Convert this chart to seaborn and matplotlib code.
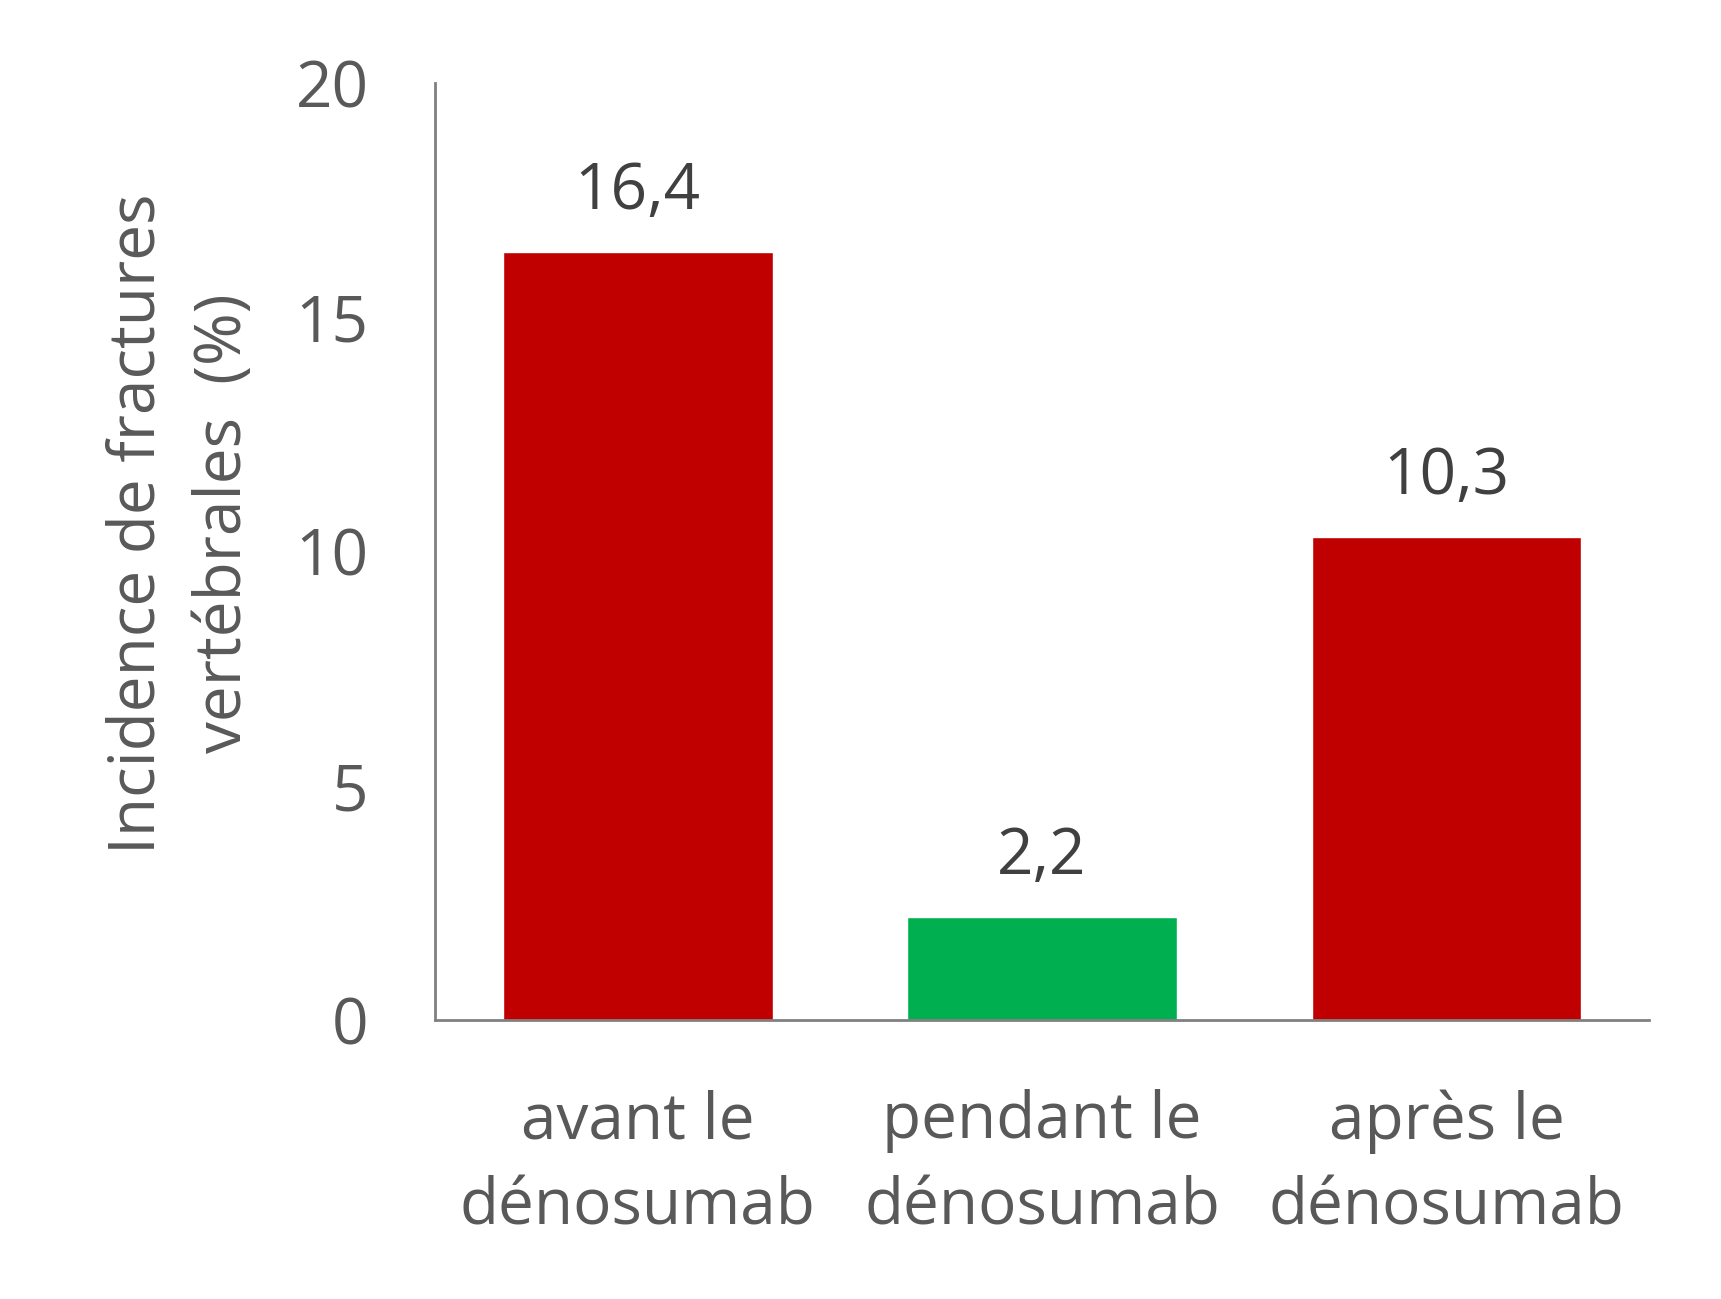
import matplotlib
matplotlib.use("Agg")
import matplotlib.pyplot as plt
import seaborn as sns
import pandas as pd

# Data
categories = ["avant le\ndénosumab", "pendant le\ndénosumab", "après le\ndénosumab"]
values = [16.4, 2.2, 10.3]
value_labels = ["16,4", "2,2", "10,3"]
bar_colors = ["#C00000", "#00B050", "#C00000"]
y_ticks = [0, 5, 10, 15, 20]

sns.set_style("white")
plt.rcParams["font.family"] = ["Open Sans", "DejaVu Sans"]

df = pd.DataFrame({"cat": categories, "val": values})

fig = plt.figure(figsize=(17.21, 12.99), dpi=100)
ax = fig.add_axes([0.253, 0.215, 0.705, 0.721])

sns.barplot(data=df, x="cat", y="val", hue="cat", palette=bar_colors,
            legend=False, width=0.667, saturation=1, ax=ax)

for i, (v, lab) in enumerate(zip(values, value_labels)):
    ax.text(i, v + 0.6, lab, ha="center", va="bottom", fontsize=46, color="#404040")

ax.set_ylim(0, 20)
ax.set_xlim(-0.5, 2.5)
ax.set_yticks(y_ticks)
ax.set_yticklabels([str(t) for t in y_ticks], fontsize=46, color="#595959")
ax.set_xticks(range(len(categories)))
ax.set_xticklabels(categories, fontsize=46, color="#595959", linespacing=1.45)
ax.tick_params(axis="x", length=0, pad=50)
ax.tick_params(axis="y", length=0, pad=48)
ax.set_xlabel("")
ax.set_ylabel("Incidence de fractures\nvertébrales  (%)", fontsize=46, color="#595959",
              linespacing=1.45)
ax.yaxis.set_label_coords(-0.148, 0.53)

for s in ["top", "right"]:
    ax.spines[s].set_visible(False)
for s in ["left", "bottom"]:
    ax.spines[s].set_color("#808080")
    ax.spines[s].set_linewidth(2)

fig.savefig("out.png", dpi=100, facecolor="white")
